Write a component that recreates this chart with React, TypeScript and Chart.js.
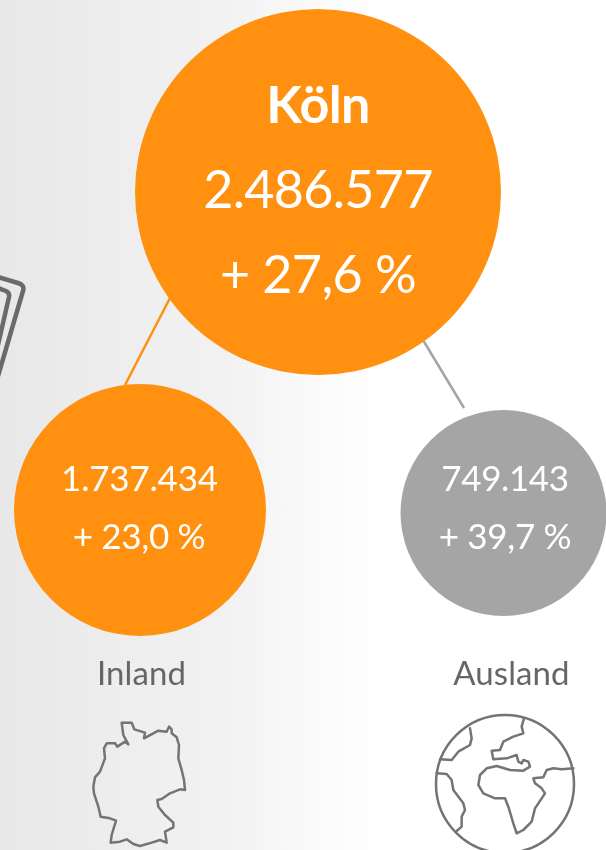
import React, { useEffect, useRef } from "react";
import { Chart, registerables } from "chart.js";

Chart.register(...registerables);

// ---- data ----
const places = ["Köln", "Inland", "Ausland"];
const passengers = ["2.486.577", "1.737.434", "749.143"];
const growth = ["+ 27,6 %", "+ 23,0 %", "+ 39,7 %"];

// ---- layout, in canvas pixels ----
const W = 606;
const H = 850;
const ORANGE = "#ff9010";
const GREY = "#a5a5a5";
const TEXT_GREY = "#666666";
const ICON_GREY = "#747474";
const bubbleX = [318, 140, 503.5];
const bubbleY = [192, 510, 513];
const bubbleR = [183, 126, 103];
const bubbleColor = [ORANGE, ORANGE, GREY];
const connectorLeft = [{ x: 170, y: 298 }, { x: 125, y: 385 }];
const connectorRight = [{ x: 423, y: 340 }, { x: 464, y: 408 }];

const germany = [[155,68],[185,68],[193,88],[215,95],[225,98],[222,115],[265,92],[290,95],[297,80],[305,88],[305,100],[320,112],[327,135],[325,175],[335,210],[342,240],[345,270],[330,268],[300,280],[275,297],[262,300],[265,320],[285,345],[310,368],[310,382],[285,395],[290,428],[270,420],[245,428],[210,438],[190,432],[170,418],[150,425],[122,428],[125,405],[138,362],[120,355],[92,350],[85,320],[72,280],[70,260],[75,232],[90,215],[105,175],[102,145],[110,130],[135,130],[142,140],[165,125],[175,133],[160,105],[155,68]];
const landEurasiaAfrica = [[312,55],[305,80],[310,100],[280,110],[250,125],[240,150],[215,152],[220,178],[260,175],[290,165],[295,185],[305,190],[310,180],[325,185],[330,200],[310,212],[270,210],[230,198],[200,205],[180,225],[175,255],[190,280],[225,295],[255,295],[265,320],[280,370],[290,400],[310,390],[335,365],[345,325],[375,280],[365,265],[345,250],[340,235],[370,232],[380,210],[400,205],[425,208],[460,205]];
const landNorth = [[150,85],[155,115],[150,135],[115,155],[95,180],[60,178]];
const landSouth = [[50,220],[80,222],[95,240],[100,270],[130,310],[135,330],[125,350],[125,380],[110,393]];

type Txt = { s: string; x: number; y: number; size: number; bold?: boolean; color: string; spacing?: number };
const texts: Txt[] = [
  { s: places[0], x: 318, y: 106, size: 52, bold: true, color: "#fff", spacing: -0.6 },
  { s: passengers[0], x: 318, y: 191, size: 52, color: "#fff", spacing: -0.7 },
  { s: growth[0], x: 318, y: 276, size: 52, color: "#fff", spacing: -0.6 },
  { s: passengers[1], x: 139.5, y: 480, size: 35, color: "#fff", spacing: -0.2 },
  { s: growth[1], x: 139, y: 538, size: 35, color: "#fff", spacing: -0.3 },
  { s: passengers[2], x: 505, y: 480, size: 35, color: "#fff", spacing: -0.4 },
  { s: growth[2], x: 505, y: 538, size: 35, color: "#fff", spacing: -0.3 },
  { s: places[1], x: 141.5, y: 674, size: 33, color: TEXT_GREY, spacing: 0.1 },
  { s: places[2], x: 511.5, y: 674, size: 33, color: TEXT_GREY, spacing: 0.1 },
];

function poly(ctx: CanvasRenderingContext2D, pts: number[][], ox: number, oy: number, k: number) {
  ctx.beginPath();
  pts.forEach(([x, y], i) => {
    const px = ox + x / k;
    const py = oy + y / k;
    if (i === 0) ctx.moveTo(px, py);
    else ctx.lineTo(px, py);
  });
  ctx.stroke();
}

const overlay = {
  id: "overlay",
  afterDatasetsDraw(chart: any) {
    const ctx: CanvasRenderingContext2D = chart.ctx;
    ctx.save();
    ctx.textAlign = "center";
    ctx.textBaseline = "middle";
    for (const t of texts) {
      ctx.font = `${t.bold ? "700" : "400"} ${t.size}px Lato, sans-serif`;
      (ctx as any).letterSpacing = `${t.spacing ?? 0}px`;
      ctx.fillStyle = t.color;
      ctx.fillText(t.s, t.x, t.y);
    }
    (ctx as any).letterSpacing = "0px";

    ctx.strokeStyle = ICON_GREY;
    ctx.lineJoin = "round";
    ctx.lineCap = "round";

    // Germany outline
    ctx.lineWidth = 2.5;
    poly(ctx, germany, 70, 700, 3);

    // Globe
    ctx.lineWidth = 2.5;
    ctx.beginPath();
    ctx.arc(505, 784, 69, 0, Math.PI * 2);
    ctx.stroke();
    poly(ctx, landEurasiaAfrica, 420, 700, 3);
    poly(ctx, landNorth, 420, 700, 3);
    poly(ctx, landSouth, 420, 700, 3);

    // Stack of documents, cut off at the left edge
    ctx.strokeStyle = "#6a6a6a";
    ctx.lineWidth = 4.5;
    ctx.beginPath();
    ctx.moveTo(-2, 277);
    ctx.lineTo(18, 283);
    ctx.quadraticCurveTo(25, 285, 23, 291);
    ctx.lineTo(-2, 376);
    ctx.stroke();
    ctx.beginPath();
    ctx.moveTo(-2, 288);
    ctx.lineTo(6, 291);
    ctx.quadraticCurveTo(10, 293, 9, 297);
    ctx.lineTo(-2, 345);
    ctx.stroke();
    ctx.restore();
  },
};

export default function App() {
  const ref = useRef<HTMLCanvasElement>(null);
  useEffect(() => {
    document.body.style.margin = "0";
    const chart = new Chart(ref.current!, {
      type: "bubble",
      data: {
        datasets: [
          {
            type: "bubble",
            label: "Passagiere",
            order: 1,
            clip: false,
            data: places.map((_, i) => ({ x: bubbleX[i], y: bubbleY[i], r: bubbleR[i] })),
            backgroundColor: bubbleColor,
            borderWidth: 0,
            hoverRadius: 0,
          },
          {
            type: "line",
            label: places[1],
            order: 2,
            data: connectorLeft,
            borderColor: ORANGE,
            borderWidth: 2.5,
            pointRadius: 0,
            fill: false,
          },
          {
            type: "line",
            label: places[2],
            order: 2,
            data: connectorRight,
            borderColor: GREY,
            borderWidth: 2.5,
            pointRadius: 0,
            fill: false,
          },
        ] as any,
      },
      options: {
        responsive: false,
        animation: false,
        layout: { padding: 0, autoPadding: false },
        scales: {
          x: { type: "linear", min: 0, max: W, display: false },
          y: { type: "linear", min: 0, max: H, reverse: true, display: false },
        },
        plugins: { legend: { display: false }, tooltip: { enabled: false }, title: { display: false } },
      },
      plugins: [overlay],
    });
    return () => chart.destroy();
  }, []);
  return (
    <div
      style={{
        width: W,
        height: H,
        overflow: "hidden",
        background: "linear-gradient(90deg, #e8e8e8 0px, #eeeeee 130px, #f2f2f2 230px, #fafafa 310px, #ffffff 385px, #ffffff 606px)",
      }}
    >
      <canvas ref={ref} width={W} height={H} style={{ display: "block" }} />
    </div>
  );
}
